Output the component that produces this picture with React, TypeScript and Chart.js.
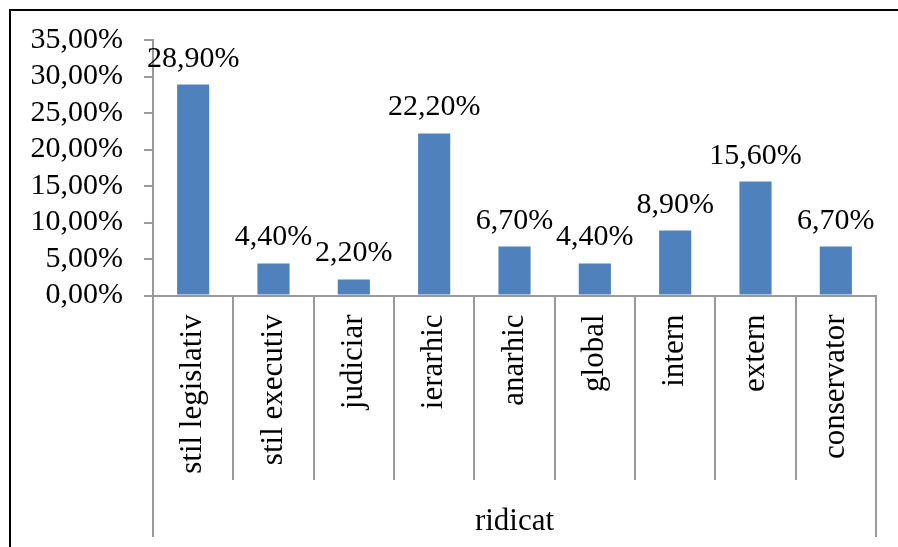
import React, { useEffect, useRef } from 'react';
import { Chart, registerables } from 'chart.js';

Chart.register(...registerables);

const categories = ['stil legislativ', 'stil executiv', 'judiciar', 'ierarhic', 'anarhic', 'global', 'intern', 'extern', 'conservator'];
const values = [28.9, 4.4, 2.2, 22.2, 6.7, 4.4, 8.9, 15.6, 6.7];
const groupLabel = 'ridicat';
const yMin = 0;
const yMax = 35;
const yStep = 5;

const FONT = '"Liberation Serif", "Times New Roman", serif';
const BAR = '#4F81BD';
const AXIS = '#9A9A9A';
const fmt = (v: number) => Number(v).toFixed(2).replace('.', ',') + '%';

const decor = {
  id: 'decor',
  beforeDraw(chart: any) {
    const ctx = chart.ctx;
    ctx.save();
    ctx.fillStyle = '#fff';
    ctx.fillRect(0, 0, chart.width, chart.height);
    ctx.strokeStyle = '#000';
    ctx.lineWidth = 2;
    ctx.beginPath();
    ctx.moveTo(10, chart.height + 5);
    ctx.lineTo(10, 10);
    ctx.lineTo(chart.width + 5, 10);
    ctx.stroke();
    ctx.restore();
  },
  afterDraw(chart: any) {
    const ctx = chart.ctx;
    const xs = chart.scales.x;
    const ca = chart.chartArea;
    const n = categories.length;
    const half = (xs.getPixelForValue(1) - xs.getPixelForValue(0)) / 2;
    ctx.save();
    ctx.strokeStyle = AXIS;
    ctx.lineWidth = 2;
    for (let i = 0; i <= n; i++) {
      const bx = Math.round(i < n ? xs.getPixelForValue(i) - half : xs.getPixelForValue(n - 1) + half);
      const outer = i === 0 || i === n;
      ctx.beginPath();
      ctx.moveTo(bx, ca.bottom);
      ctx.lineTo(bx, outer ? 537 : 480);
      ctx.stroke();
    }
    ctx.fillStyle = '#000';
    ctx.font = `31px ${FONT}`;
    ctx.textAlign = 'center';
    ctx.textBaseline = 'alphabetic';
    ctx.fillText(groupLabel, (ca.left + ca.right) / 2, 530);
    ctx.restore();
  },
  afterDatasetsDraw(chart: any) {
    const ctx = chart.ctx;
    const meta = chart.getDatasetMeta(0);
    ctx.save();
    ctx.fillStyle = '#000';
    ctx.font = `30px ${FONT}`;
    ctx.textAlign = 'center';
    ctx.textBaseline = 'alphabetic';
    meta.data.forEach((bar: any, i: number) => {
      ctx.fillText(fmt(values[i]), bar.x, bar.y - 18);
    });
    ctx.restore();
  },
};

export default function App() {
  const ref = useRef<HTMLCanvasElement>(null);
  useEffect(() => {
    document.body.style.margin = '0';
    const chart = new Chart(ref.current as HTMLCanvasElement, {
      type: 'bar',
      data: {
        labels: categories,
        datasets: [
          {
            data: values,
            backgroundColor: BAR,
            borderWidth: 0,
            categoryPercentage: 1,
            barPercentage: 0.4,
          },
        ],
      },
      options: {
        responsive: false,
        animation: false,
        layout: { padding: { top: 40, right: 22, left: 0, bottom: 0 } },
        plugins: { legend: { display: false }, tooltip: { enabled: false } },
        scales: {
          x: {
            grid: { display: false, drawTicks: false },
            border: { display: true, color: AXIS, width: 2 },
            ticks: {
              autoSkip: false,
              maxRotation: 90,
              minRotation: 90,
              padding: 19,
              color: '#000',
              font: { family: FONT, size: 31 },
            },
            afterFit(s: any) {
              s.height = 251.5;
            },
          },
          y: {
            min: yMin,
            max: yMax,
            grid: { drawOnChartArea: false, drawTicks: true, tickLength: 9, color: AXIS, lineWidth: 2 },
            border: { display: true, color: AXIS, width: 2 },
            ticks: {
              autoSkip: false,
              stepSize: yStep,
              padding: 21,
              color: '#000',
              font: { family: FONT, size: 30 },
              callback: (v: any) => fmt(Number(v)),
            },
            afterFit(s: any) {
              s.width = 153;
            },
          },
        },
      },
      plugins: [decor],
    });
    return () => chart.destroy();
  }, []);
  return <canvas ref={ref} width={898} height={547} style={{ display: 'block' }} />;
}
